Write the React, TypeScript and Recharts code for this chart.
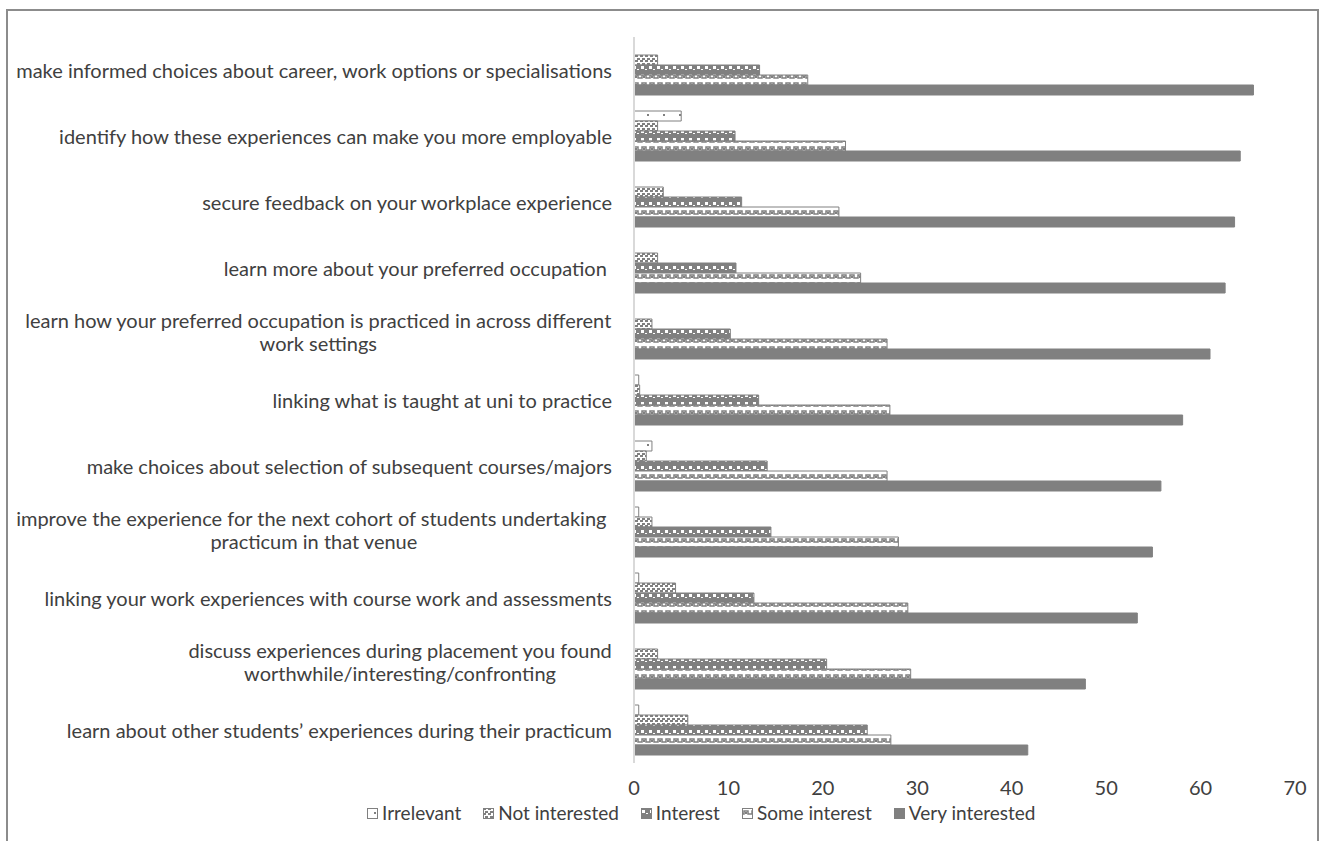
import React from 'react';
import { BarChart, Bar, XAxis, YAxis } from 'recharts';

const categories = [
  'make informed choices about career, work options or specialisations',
  'identify how these experiences can make you more employable',
  'secure feedback on your workplace experience',
  'learn more about your preferred occupation ',
  'learn how your preferred occupation is practiced in across different\nwork settings',
  'linking what is taught at uni to practice',
  'make choices about selection of subsequent courses/majors',
  'improve the experience for the next cohort of students undertaking \npracticum in that venue',
  'linking your work experiences with course work and assessments',
  'discuss experiences during placement you found\nworthwhile/interesting/confronting',
  'learn about other students\u2019 experiences during their practicum',
];

const irrelevant = [0, 5.0, 0, 0, 0, 0.5, 1.9, 0.5, 0.5, 0, 0.5];
const notInterested = [2.5, 2.5, 3.1, 2.5, 1.9, 0.6, 1.3, 1.9, 4.4, 2.5, 5.7];
const interest = [13.3, 10.7, 11.4, 10.8, 10.2, 13.2, 14.1, 14.5, 12.7, 20.4, 24.7];
const someInterest = [18.4, 22.4, 21.7, 24.0, 26.8, 27.1, 26.8, 28.0, 29.0, 29.3, 27.2];
const veryInterested = [65.6, 64.2, 63.6, 62.6, 61.0, 58.1, 55.8, 54.9, 53.3, 47.8, 41.7];

const xTicks = [0, 10, 20, 30, 40, 50, 60, 70];

const series = [
  { key: 'irrelevant', name: 'Irrelevant', fill: 'url(#patIrrelevant)' },
  { key: 'notInterested', name: 'Not interested', fill: 'url(#patNotInterested)' },
  { key: 'interest', name: 'Interest', fill: 'url(#patInterest)' },
  { key: 'someInterest', name: 'Some interest', fill: 'url(#patSomeInterest)' },
  { key: 'veryInterested', name: 'Very interested', fill: '#808080' },
];

const data = categories.map((label, i) => ({
  label,
  irrelevant: irrelevant[i],
  notInterested: notInterested[i],
  interest: interest[i],
  someInterest: someInterest[i],
  veryInterested: veryInterested[i],
}));

const FONT = 'Lato, "Noto Sans", sans-serif';
const FONT_SIZE = 20;
const TEXT = '#404040';
const GREY = '#808080';

let measureCtx: CanvasRenderingContext2D | null = null;
const measure = (s: string) => {
  if (!measureCtx) measureCtx = document.createElement('canvas').getContext('2d');
  if (!measureCtx) return s.length * 9;
  measureCtx.font = `${FONT_SIZE}px ${FONT}`;
  return measureCtx.measureText(s).width;
};

// right-aligned block; wrapped labels are centred within the block
const CategoryTick = (props: any) => {
  const { x, y, payload } = props;
  const lines = String(payload.value).split('\n');
  const right = x - 14;
  const common = {
    fill: TEXT,
    fontSize: FONT_SIZE,
    fontFamily: FONT,
    xmlSpace: 'preserve',
    style: { whiteSpace: 'pre' as const },
  };
  if (lines.length === 1) {
    return (
      <text {...common} x={right} y={y} textAnchor="end" dominantBaseline="central">
        {lines[0]}
      </text>
    );
  }
  const w = Math.max(...lines.map(measure));
  const cx = right - w / 2;
  return (
    <text {...common} textAnchor="middle" dominantBaseline="central">
      {lines.map((l, i) => (
        <tspan key={i} x={cx} y={y - 14 + i * 23}>
          {l}
        </tspan>
      ))}
    </text>
  );
};

const Patterns = () => (
  <svg width={0} height={0} style={{ position: 'absolute' }}>
    <defs>
      <pattern id="patIrrelevant" patternUnits="userSpaceOnUse" width={16} height={10}>
        <rect width={16} height={10} fill="#ffffff" />
        <rect x={7} y={4} width={2} height={2} fill={GREY} />
      </pattern>
      <pattern id="patNotInterested" patternUnits="userSpaceOnUse" width={5} height={5}>
        <rect width={5} height={5} fill="#ffffff" />
        <rect x={0} y={0} width={3} height={2} fill={GREY} />
        <rect x={2} y={3} width={3} height={2} fill={GREY} />
      </pattern>
      <pattern id="patInterest" patternUnits="userSpaceOnUse" width={8} height={8}>
        <rect width={8} height={8} fill={GREY} />
        <rect x={1} y={2} width={3} height={3} fill="#ffffff" />
        <rect x={5} y={5} width={2} height={1} fill="#ffffff" />
      </pattern>
      <pattern id="patSomeInterest" patternUnits="userSpaceOnUse" width={8} height={8}>
        <rect width={8} height={8} fill="#ffffff" />
        <path d="M0,6 L2,6 L2,3 L6,3 L6,6 L8,6" stroke={GREY} strokeWidth={1.5} fill="none" />
        <rect x={3} y={4} width={2} height={2} fill={GREY} />
      </pattern>
    </defs>
  </svg>
);

const LegendRow = () => (
  <div
    style={{
      position: 'absolute',
      top: 802,
      left: 367,
      display: 'flex',
      gap: 22,
      fontFamily: FONT,
      fontSize: 19,
      color: TEXT,
      lineHeight: '22px',
    }}
  >
    {series.map((s) => (
      <div key={s.key} style={{ display: 'flex', alignItems: 'center', gap: 4 }}>
        <svg width={11} height={11}>
          <rect x={0.5} y={0.5} width={10} height={10} fill={s.fill} stroke={GREY} strokeWidth={1} />
        </svg>
        <span>{s.name}</span>
      </div>
    ))}
  </div>
);

export default function App() {
  return (
    <div
      style={{
        position: 'absolute',
        top: 0,
        left: 0,
        width: 1322,
        height: 841,
        background: '#ffffff',
        overflow: 'hidden',
      }}
    >
      <Patterns />
      <div
        style={{
          position: 'absolute',
          left: 6,
          top: 9,
          width: 1313,
          height: 850,
          border: '2px solid #8c8c8c',
          boxSizing: 'border-box',
        }}
      />
      <div style={{ position: 'absolute', top: 0, left: 0 }}>
        <BarChart
          width={1322}
          height={841}
          data={data}
          layout="vertical"
          margin={{ top: 37, right: 27, bottom: 48, left: 0 }}
          barCategoryGap={8}
          barGap={0}
        >
          <XAxis
            type="number"
            domain={[0, 70]}
            ticks={xTicks}
            axisLine={false}
            tickLine={false}
            tickSize={0}
            tickMargin={18}
            height={30}
            tick={{ fill: TEXT, fontSize: FONT_SIZE, fontFamily: FONT }}
          />
          <YAxis
            type="category"
            dataKey="label"
            width={634}
            axisLine={{ stroke: '#d9d9d9', strokeWidth: 2 }}
            tickLine={false}
            interval={0}
            tick={<CategoryTick />}
          />
          {series.map((s) => (
            <Bar
              key={s.key}
              dataKey={s.key}
              name={s.name}
              fill={s.fill}
              stroke={GREY}
              strokeWidth={1}
              isAnimationActive={false}
            />
          ))}
        </BarChart>
      </div>
      <LegendRow />
    </div>
  );
}
